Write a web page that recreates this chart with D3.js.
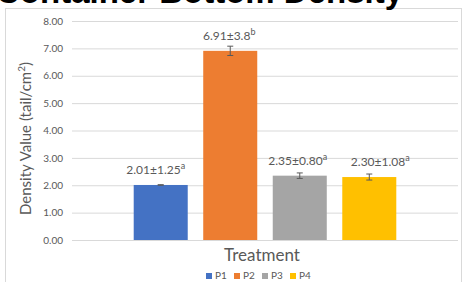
<!DOCTYPE html>
<html>
<head>
<meta charset="utf-8">
<script src="https://cdn.jsdelivr.net/npm/d3@7"></script>
<style>
  body { margin: 0; background: #fff; }
  svg { display: block; }
</style>
</head>
<body>
<div id="wrapper"></div>
<script>
// chart data
const series = ["P1", "P2", "P3", "P4"]
const means = [2.01, 6.91, 2.35, 2.30]
const errs = [0.01, 0.17, 0.10, 0.11]
const labelText = ["2.01±1.25", "6.91±3.8", "2.35±0.80", "2.30±1.08"]
const labelSup = ["a", "b", "a", "a"]
const yTicks = [0, 1, 2, 3, 4, 5, 6, 7, 8]
const colors = ["#4472c4", "#ed7d31", "#a5a5a5", "#ffc000"]
const category = ["Treatment"]
// manual nudges of the data labels (as in the source chart)
const labelShift = [-5, -1, -2, 11]

const width = 469, height = 282
const margin = {top: 21, right: 11, bottom: 42, left: 72}
const boundWidth = width - margin.left - margin.right
const boundHeight = height - margin.top - margin.bottom
const font = "Lato, 'Open Sans', sans-serif"
const grey = "#595959"

const svg = d3.select("#wrapper").append("svg")
  .attr("width", width)
  .attr("height", height)

// chart frame
svg.append("rect")
  .attr("x", 5.5).attr("y", 8.5)
  .attr("width", 456).attr("height", 280)
  .attr("fill", "none").attr("stroke", "#d9d9d9")

// title, cut off at the top (as in the source image)
svg.append("text")
  .attr("x", -4).attr("y", 3)
  .attr("font-family", "'Liberation Sans', Arial, sans-serif")
  .attr("font-weight", "bold")
  .attr("font-size", 33)
  .attr("fill", "#000")
  .text("Container Bottom Density")

const bounds = svg.append("g")
  .attr("transform", `translate(${margin.left},${margin.top})`)

const yScale = d3.scaleLinear().domain([0, 8]).range([boundHeight, 0])
const xOuter = d3.scaleBand().domain(category).range([0, boundWidth])
  .paddingInner(0).paddingOuter(0.235)
const xInner = d3.scaleBand().domain(series).range([0, xOuter.bandwidth()])
  .paddingInner(0.223).paddingOuter(0)

// gridlines + tick labels
const yAxis = bounds.append("g")
  .call(d3.axisLeft(yScale).tickValues(yTicks)
    .tickSize(-boundWidth).tickPadding(9)
    .tickFormat(d3.format(".2f")))
yAxis.select(".domain").remove()
yAxis.selectAll(".tick line").attr("stroke", "#d9d9d9")
yAxis.selectAll(".tick text")
  .attr("fill", grey)
  .attr("font-family", font)
  .attr("font-size", 10)

const cx = s => xOuter("Treatment") + xInner(s)

const bars = bounds.selectAll(".bar")
  .data(series)
  .enter().append("rect")
    .attr("class", "bar")
    .attr("x", s => cx(s))
    .attr("width", xInner.bandwidth())
    .attr("y", (s, i) => yScale(means[i]))
    .attr("height", (s, i) => boundHeight - yScale(means[i]))
    .attr("fill", (s, i) => colors[i])

// error bars
const eb = bounds.selectAll(".err")
  .data(series)
  .enter().append("g")
    .attr("class", "err")
    .attr("stroke", "#595959")
    .attr("stroke-width", 1)
eb.append("line")
  .attr("x1", s => cx(s) + xInner.bandwidth() / 2)
  .attr("x2", s => cx(s) + xInner.bandwidth() / 2)
  .attr("y1", (s, i) => yScale(means[i] + errs[i]))
  .attr("y2", (s, i) => yScale(means[i] - errs[i]))
eb.selectAll(".cap")
  .data((s, i) => [[s, means[i] + errs[i]], [s, means[i] - errs[i]]])
  .enter().append("line")
    .attr("x1", d => cx(d[0]) + xInner.bandwidth() / 2 - 3)
    .attr("x2", d => cx(d[0]) + xInner.bandwidth() / 2 + 3)
    .attr("y1", d => yScale(d[1]))
    .attr("y2", d => yScale(d[1]))

// data labels
const labels = bounds.selectAll(".lab")
  .data(series)
  .enter().append("text")
    .attr("class", "lab")
    .attr("x", (s, i) => cx(s) + xInner.bandwidth() / 2 + labelShift[i])
    .attr("y", (s, i) => yScale(means[i]) - 11)
    .attr("text-anchor", "middle")
    .attr("fill", grey)
    .attr("font-family", font)
    .attr("font-size", 12)
labels.append("tspan").text((s, i) => labelText[i])
labels.append("tspan")
  .attr("dy", -5)
  .attr("font-size", 9)
  .text((s, i) => labelSup[i])

// y title
const yTitle = svg.append("text")
  .attr("transform", `translate(31,${margin.top + boundHeight / 2 + 8}) rotate(-90)`)
  .attr("text-anchor", "middle")
  .attr("fill", grey)
  .attr("font-family", font)
  .attr("font-size", 15)
yTitle.append("tspan").text("Density Value (tail/cm")
yTitle.append("tspan").attr("dy", -6).attr("font-size", 10).text("2")
yTitle.append("tspan").attr("dy", 6).text(")")

// x title
svg.append("text")
  .attr("x", margin.left + xOuter("Treatment") + xOuter.bandwidth() / 2 - 3)
  .attr("y", 261)
  .attr("text-anchor", "middle")
  .attr("fill", grey)
  .attr("font-family", font)
  .attr("font-size", 17)
  .text("Treatment")

// legend
const legendX = d3.scalePoint().domain(series).range([206, 290])
const legend = svg.selectAll(".leg")
  .data(series)
  .enter().append("g")
    .attr("class", "leg")
    .attr("transform", s => `translate(${legendX(s)},273)`)
legend.append("rect")
  .attr("width", 6).attr("height", 6)
  .attr("fill", (s, i) => colors[i])
legend.append("text")
  .attr("x", 9).attr("y", 6)
  .attr("fill", grey)
  .attr("font-family", font)
  .attr("font-size", 10)
  .text(s => s)
</script>
</body>
</html>
